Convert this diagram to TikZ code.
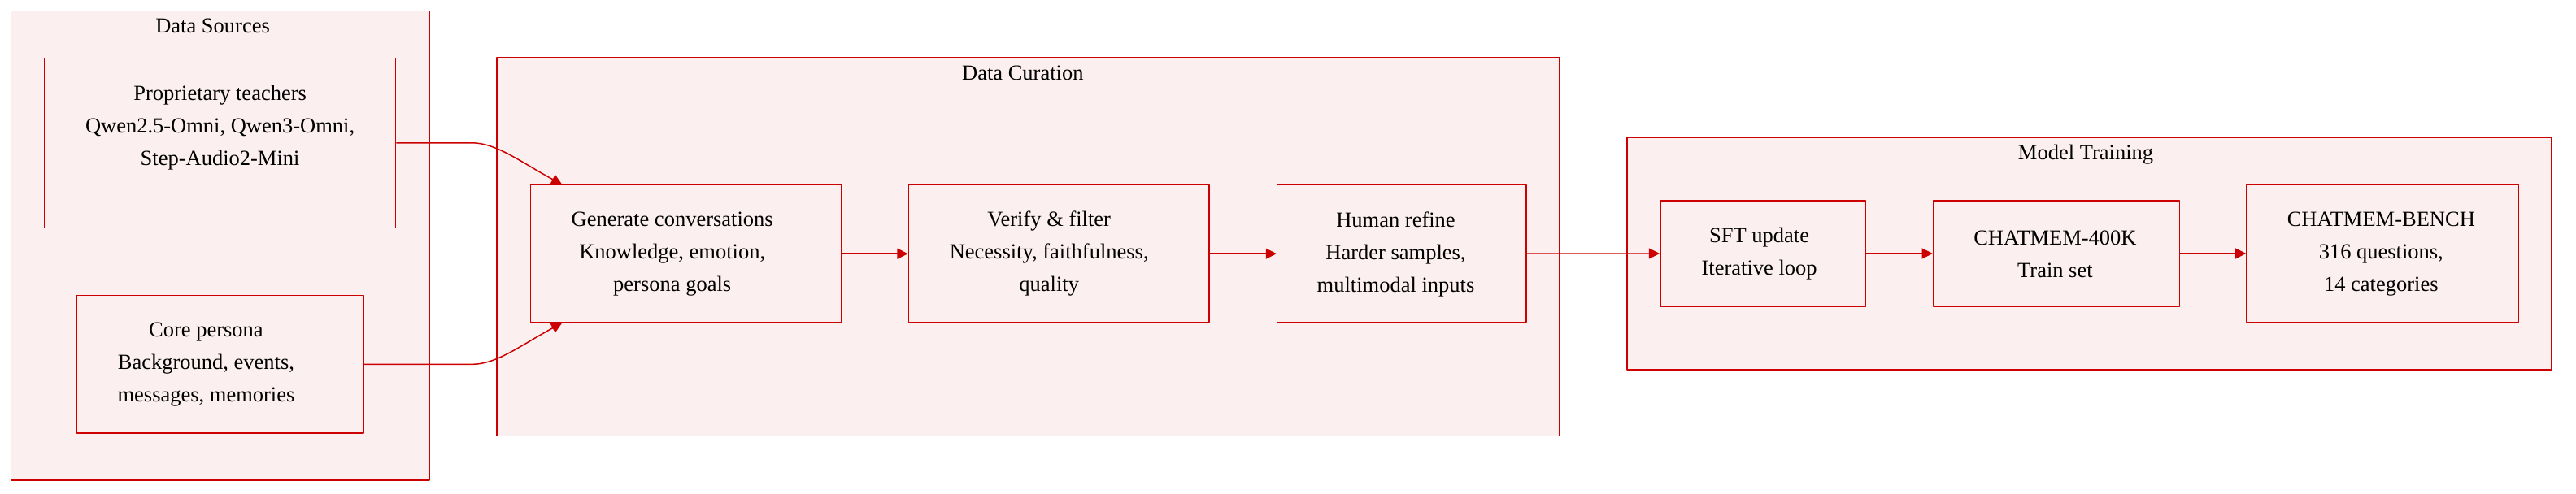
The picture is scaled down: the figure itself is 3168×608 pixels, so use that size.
\documentclass[tikz,border=0pt]{standalone}
\usepackage{fontspec}
\setmainfont{Liberation Serif}
\usetikzlibrary{arrows.meta,fit,calc}
\definecolor{edgered}{RGB}{204,0,0}
\definecolor{boxpink}{RGB}{252,239,239}

\begin{document}
\begin{tikzpicture}[x=0.5pt,y=-0.5pt,line join=round,
        >={Triangle[length=6.6pt,width=6.4pt]},
        font=\fontsize{13.25pt}{20pt}\selectfont,
        grp/.style={draw=edgered,fill=boxpink,line width=0.75pt,inner sep=0pt},
        blk/.style={draw=edgered,fill=boxpink,line width=0.75pt,inner sep=0pt},
        txt/.style={align=center,inner sep=0pt},
        ttl/.style={anchor=base,inner sep=0pt},
        arr/.style={->,draw=edgered,line width=0.75pt}]
    \useasboundingbox (0,0) rectangle (3168,608);
    % groups
    \node[grp,fit={(13.5,13.6) (528,591)}] (srcs) {};
    \node[grp,fit={(611,71) (1918,536.5)}] (cur) {};
    \node[grp,fit={(2001,169) (3138,455)}] (trn) {};
    \node[ttl] (srcsttl) at (261.6,41) {Data Sources};
    \node[ttl] (curttl) at (1257.8,99) {Data Curation};
    \node[ttl] (trnttl) at (2565,197) {Model Training};
    % blocks
    \node[blk,fit={(54.4,71.3) (486.7,280.3)}] (prop) {};
    \node[blk,fit={(94.3,363.7) (447,533)}] (core) {};
    \node[blk,fit={(652.7,227.7) (1035,396.7)}] (gen) {};
    \node[blk,fit={(1117.4,227.7) (1487.2,396.7)}] (ver) {};
    \node[blk,fit={(1570.7,227.7) (1877.2,396.7)}] (hum) {};
    \node[blk,fit={(2041.8,247) (2294.3,377)}] (sft) {};
    \node[blk,fit={(2377.6,247) (2680.6,377)}] (set) {};
    \node[blk,fit={(2763,227.7) (3097.5,396.3)}] (bench) {};
    \node[txt] (proptxt) at (270.6,157) {Proprietary teachers\\Qwen2.5-Omni, Qwen3-Omni,\\Step-Audio2-Mini};
    \node[txt] (coretxt) at (253.5,449) {Core persona\\Background, events,\\messages, memories};
    \node[txt] (gentxt) at (826.7,312.5) {Generate conversations\\Knowledge, emotion,\\persona goals};
    \node[txt] (vertxt) at (1290.2,312.5) {Verify \& filter\\Necessity, faithfulness,\\quality};
    \node[txt] (humtxt) at (1716.5,312.5) {Human refine\\Harder samples,\\multimodal inputs};
    \node[txt] (sfttxt) at (2163.6,312.5) {SFT update\\Iterative loop};
    \node[txt] (settxt) at (2527.4,312.5) {CHATMEM-400K\\Train set};
    \node[txt] (benchtxt) at (2928.3,312.5) {CHATMEM-BENCH\\316 questions,\\14 categories};
    % edges
    \coordinate (pin) at ($(gen.north west)+(39.3,0)$);
    \coordinate (cin) at ($(gen.south west)+(39.3,0)$);
    \draw[arr] (prop.east) -- ++(93,0) .. controls +(30,0) and ($(pin)+(-50,-27)$) .. (pin);
    \draw[arr] (core.east) -- ++(133,0) .. controls +(30,0) and ($(cin)+(-50,27)$) .. (cin);
    \draw[arr] (gen) -- (ver);
    \draw[arr] (ver) -- (hum);
    \draw[arr] (hum.east) -- (sft.west);
    \draw[arr] (sft) -- (set);
    \draw[arr] (set) -- (bench);
\end{tikzpicture}
\end{document}
